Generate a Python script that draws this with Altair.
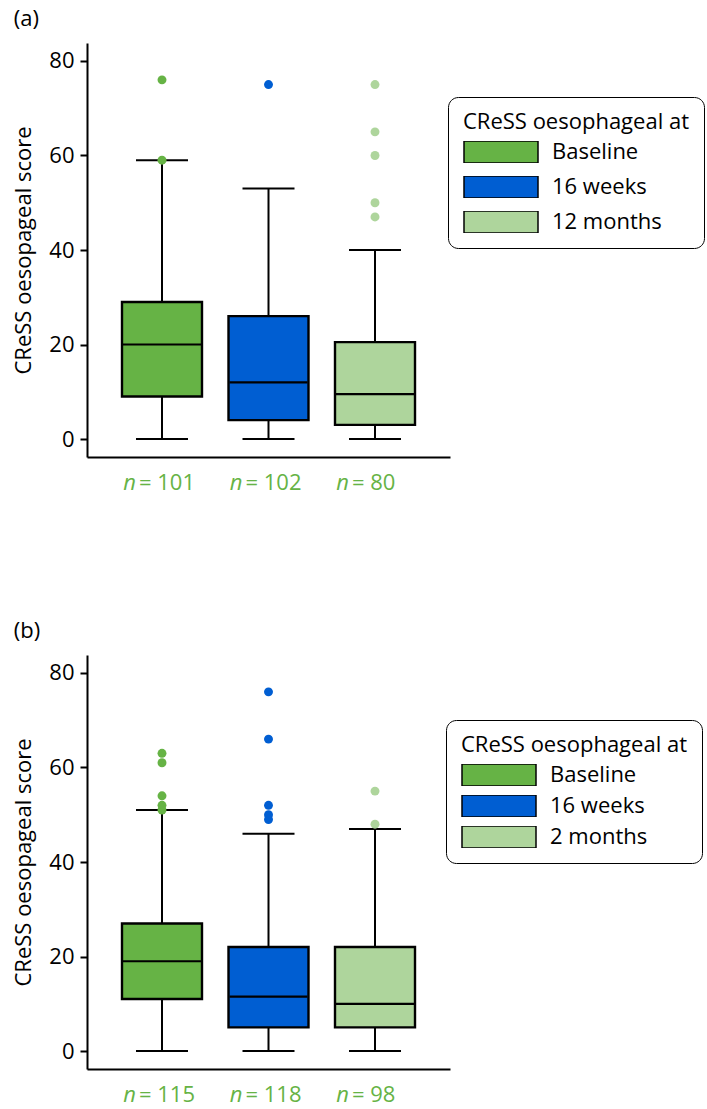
import altair as alt
import pandas as pd

FONT = "Open Sans"
GREEN_TXT = "#66B345"
COLORS = ["#66B345", "#005ED2", "#AED59C"]

# ---- panel (a) ----
cats_a = ["Baseline", "16 weeks", "12 months"]
n_a = [101, 102, 80]
lower_a = [0, 0, 0]
q1_a = [9, 4, 3]
median_a = [20, 12, 9.5]
q3_a = [29, 26, 20.5]
upper_a = [59, 53, 40]
out_base_a = [76, 59]
out_16w_a = [75]
out_12m_a = [75, 65, 60, 50, 47]

# ---- panel (b) ----
cats_b = ["Baseline", "16 weeks", "2 months"]
n_b = [115, 118, 98]
lower_b = [0, 0, 0]
q1_b = [11, 5, 5]
median_b = [19, 11.5, 10]
q3_b = [27, 22, 22]
upper_b = [51, 46, 47]
out_base_b = [63, 61, 54, 52, 51]
out_16w_b = [76, 66, 52, 50, 49]
out_2m_b = [55, 48]

W, H = 363, 414


def make_panel(label, cats, n, lo, q1, med, q3, hi, outl, legend_x, legend_y, row_pad):
    stats = pd.DataFrame({"group": cats, "n": n, "lower": lo, "q1": q1,
                          "median": med, "q3": q3, "upper": hi})
    out = pd.DataFrame([{"group": g, "value": v} for g, vals in zip(cats, outl) for v in vals])

    xenc = alt.X("group:N", sort=cats,
                 scale=alt.Scale(domain=cats, paddingInner=0, paddingOuter=0.2042),
                 axis=alt.Axis(title=None, labels=False, ticks=False, domain=True,
                               domainColor="black", domainWidth=2))
    yscale = alt.Scale(domain=[-3.8, 83.8], nice=False, zero=False)
    yaxis = alt.Axis(title="CReSS oesopageal score", values=[0, 20, 40, 60, 80], grid=False,
                     labelFontSize=22, labelColor="black", labelPadding=6,
                     tickColor="black", tickWidth=2, tickSize=7,
                     domainColor="black", domainWidth=2,
                     titleFontSize=22, titleFontWeight="normal", titleColor="black",
                     titlePadding=13)
    fill_scale = alt.Scale(domain=cats, range=COLORS)

    def Y(field):
        return alt.Y(field, scale=yscale, axis=yaxis)

    base = alt.Chart(stats)
    whisk_lo = base.mark_rule(color="black", strokeWidth=2).encode(x=xenc, y=Y("lower:Q"), y2="q1:Q")
    whisk_hi = base.mark_rule(color="black", strokeWidth=2).encode(x=xenc, y=Y("q3:Q"), y2="upper:Q")
    cap_lo = base.mark_tick(color="black", size=52, thickness=2, opacity=1).encode(x=xenc, y=Y("lower:Q"))
    cap_hi = base.mark_tick(color="black", size=52, thickness=2, opacity=1).encode(x=xenc, y=Y("upper:Q"))
    box = base.mark_bar(size=80, stroke="black", strokeWidth=2.4, opacity=1).encode(
        x=xenc, y=Y("q1:Q"), y2="q3:Q",
        fill=alt.Fill("group:N", scale=fill_scale,
                      legend=alt.Legend(title="CReSS oesophageal at", orient="none",
                                        legendX=legend_x, legendY=legend_y, direction="vertical",
                                        symbolType="M-1,-0.3H1V0.3H-1Z", symbolSize=5476,
                                        symbolStrokeColor="black", symbolStrokeWidth=1.5,
                                        symbolOpacity=1, clipHeight=22, rowPadding=row_pad,
                                        labelFontSize=22, labelColor="black", labelOffset=13,
                                        titleFontSize=22, titleFontWeight="normal",
                                        titleColor="black", titlePadding=7, titleLimit=400,
                                        padding=15, strokeColor="black", cornerRadius=10,
                                        fillColor="white")))
    median_t = base.mark_tick(color="black", size=78, thickness=2.2, opacity=1).encode(x=xenc, y=Y("median:Q"))
    outl_pts = alt.Chart(out).mark_circle(size=80, opacity=1).encode(
        x=xenc, y=Y("value:Q"),
        fill=alt.Fill("group:N", scale=fill_scale, legend=None))
    n_sym = base.mark_text(text="n", fontStyle="italic", align="right", baseline="middle",
                           dx=-26, fontSize=22, color=GREEN_TXT).encode(x=xenc, y=alt.value(440))
    n_val = base.transform_calculate(lab="'= ' + datum.n").mark_text(
        align="left", baseline="middle", dx=-23, fontSize=22, color=GREEN_TXT).encode(
        x=xenc, y=alt.value(440), text="lab:N")

    return alt.layer(whisk_lo, whisk_hi, cap_lo, cap_hi, box, median_t, outl_pts, n_sym, n_val).properties(
        width=W, height=H,
        title=alt.TitleParams(label, anchor="start", frame="bounds", fontSize=22,
                              fontWeight="normal", color="black", offset=12, dx=1))


pa = make_panel("(a)", cats_a, n_a, lower_a, q1_a, median_a, q3_a, upper_a,
                [out_base_a, out_16w_a, out_12m_a], 361, 54, 13)
pb = make_panel("(b)", cats_b, n_b, lower_b, q1_b, median_b, q3_b, upper_b,
                [out_base_b, out_16w_b, out_2m_b], 359, 65, 9)

chart = alt.vconcat(pa, pb, spacing=126).resolve_scale(
    x="independent", y="independent", fill="independent").resolve_legend(
    fill="independent").properties(
    padding={"left": 12, "top": 8, "right": 0, "bottom": 5}).configure(
    font=FONT).configure_view(stroke=None)

chart.save("out.html", embed_options={"renderer": "svg", "actions": False})
